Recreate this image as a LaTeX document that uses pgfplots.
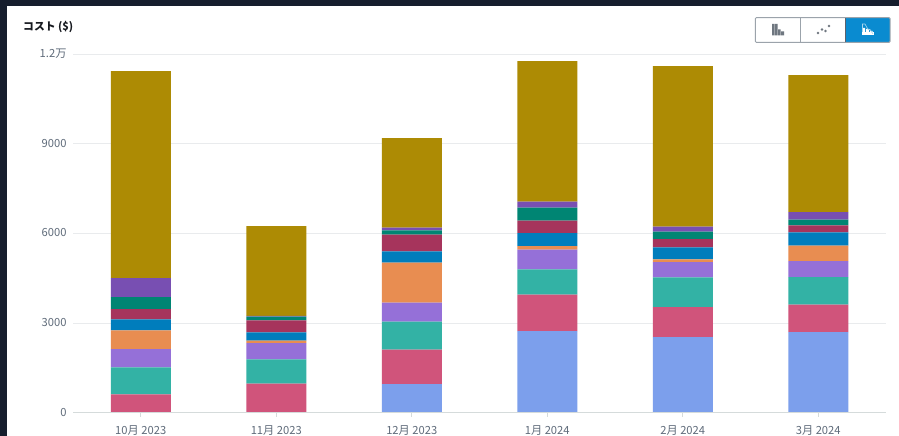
\documentclass[border=0pt]{standalone}
\usepackage{fontspec}
\setmainfont{Noto Sans CJK JP}
\usepackage{pgfplots}
\pgfplotsset{compat=1.18}
\definecolor{bgdark}{HTML}{161E2D}
\definecolor{cA}{HTML}{7C9FEC}
\definecolor{cB}{HTML}{D0547B}
\definecolor{cC}{HTML}{33B2A5}
\definecolor{cD}{HTML}{9570D8}
\definecolor{cE}{HTML}{E88D51}
\definecolor{cF}{HTML}{007DBC}
\definecolor{cG}{HTML}{A6345C}
\definecolor{cH}{HTML}{008573}
\definecolor{cI}{HTML}{784FB2}
\definecolor{cJ}{HTML}{AD8B04}
\definecolor{gridc}{HTML}{E9EBED}
\definecolor{axisc}{HTML}{D5DBDB}
\definecolor{labelc}{HTML}{5F6B7A}
\definecolor{titlec}{HTML}{16191F}
\definecolor{btnblue}{HTML}{0A8BD0}
\definecolor{btnedge}{HTML}{9BA3AB}
\definecolor{icong}{HTML}{6F7780}
\begin{document}
\begin{tikzpicture}[x=1pt,y=1pt]
\path[use as bounding box] (0,0) rectangle (899,436);
\fill[bgdark] (0,0) rectangle (899,436);
\fill[white] (7,0) rectangle (899,430);
\begin{axis}[
  at={(73pt,23.3pt)}, anchor=south west,
  width=813pt, height=358.6pt, scale only axis,
  ybar stacked, bar width=60pt,
  xmin=-0.5, xmax=5.5, ymin=0, ymax=12000,
  xtick={0,1,2,3,4,5},
  xticklabels={10月 2023,11月 2023,12月 2023,1月 2024,2月 2024,3月 2024},
  ytick={0,3000,6000,9000,12000},
  yticklabels={0,3000,6000,9000,1.2万},
  scaled y ticks=false,
  ymajorgrids, grid style={gridc,line width=1pt},
  axis line style={draw=none},
  axis x line*=bottom, axis y line*=left,
  major tick length=4pt,
  x tick style={axisc,line width=0.8pt},
  y tick style={draw=none},
  tick align=outside,
  xticklabel style={font=\fontsize{11.2}{12}\selectfont,text=labelc,yshift=-5.7pt},
  yticklabel style={font=\fontsize{11.2}{12}\selectfont,text=labelc,xshift=1pt,yshift=0.5pt},
  /pgf/number format/assume math mode=true,
  clip=false,
]
\addplot[fill=cA,draw=none] coordinates {(0,0) (1,0) (2,959) (3,2733) (4,2532) (5,2699)};
\addplot[fill=cB,draw=none] coordinates {(0,613) (1,970) (2,1149) (3,1215) (4,1004) (5,914)};
\addplot[fill=cC,draw=none] coordinates {(0,904) (1,815) (2,937) (3,847) (4,992) (5,926)};
\addplot[fill=cD,draw=none] coordinates {(0,613) (1,546) (2,636) (3,659) (4,513) (5,536)};
\addplot[fill=cE,draw=none] coordinates {(0,625) (1,78) (2,1338) (3,123) (4,89) (5,512)};
\addplot[fill=cF,draw=none] coordinates {(0,368) (1,279) (2,379) (3,435) (4,402) (5,447)};
\addplot[fill=cG,draw=none] coordinates {(0,345) (1,402) (2,558) (3,412) (4,279) (5,234)};
\addplot[fill=cH,draw=none] coordinates {(0,402) (1,122) (2,144) (3,436) (4,245) (5,189)};
\addplot[fill=cI,draw=none] coordinates {(0,636) (1,28) (2,90) (3,200) (4,167) (5,257)};
\addplot[fill=cJ,draw=none] coordinates {(0,6924) (1,3007) (2,3000) (3,4708) (4,5377) (5,4586)};
\end{axis}
\draw[axisc,line width=1pt] (73,23.3) -- (886,23.3);
\node[anchor=west,inner sep=0pt,text=titlec,font=\fontsize{10.8}{12}\selectfont\bfseries] at (23,409) {コスト (\$)};
% view switcher
\fill[btnblue] (845.3,393.7) rectangle (890,418.3);
\draw[btnedge,line width=1pt,rounded corners=1pt] (755.3,393.7) rectangle (890,418.3);
\draw[btnedge,line width=1pt] (800.3,393.7) -- (800.3,418.3);
\draw[bgdark!70,line width=0.8pt] (845.3,393.7) -- (845.3,418.3);
\fill[icong] (772,400.5) rectangle (774.5,412)
  (775,400.5) rectangle (777.5,412)
  (778,400.5) rectangle (780.5,406.5)
  (781,400.5) rectangle (784,404.5);
\foreach \p in {(818,403),(822,406.5),(825.5,405),(829,410)}
  \fill[icong] \p circle (1.4);
\fill[white] (862,400.5) rectangle (873.5,403.5);
\fill[white] (862.5,403.5) rectangle (865,408) (866,403.5) rectangle (869,407) (870,403.5) rectangle (872.5,405);
\draw[white!65!btnblue,line width=0.6pt] (862.5,404) -- (862.5,412) -- (865,412) -- (868,406.5) -- (870,406.5) -- (873,402);
\end{tikzpicture}
\end{document}
